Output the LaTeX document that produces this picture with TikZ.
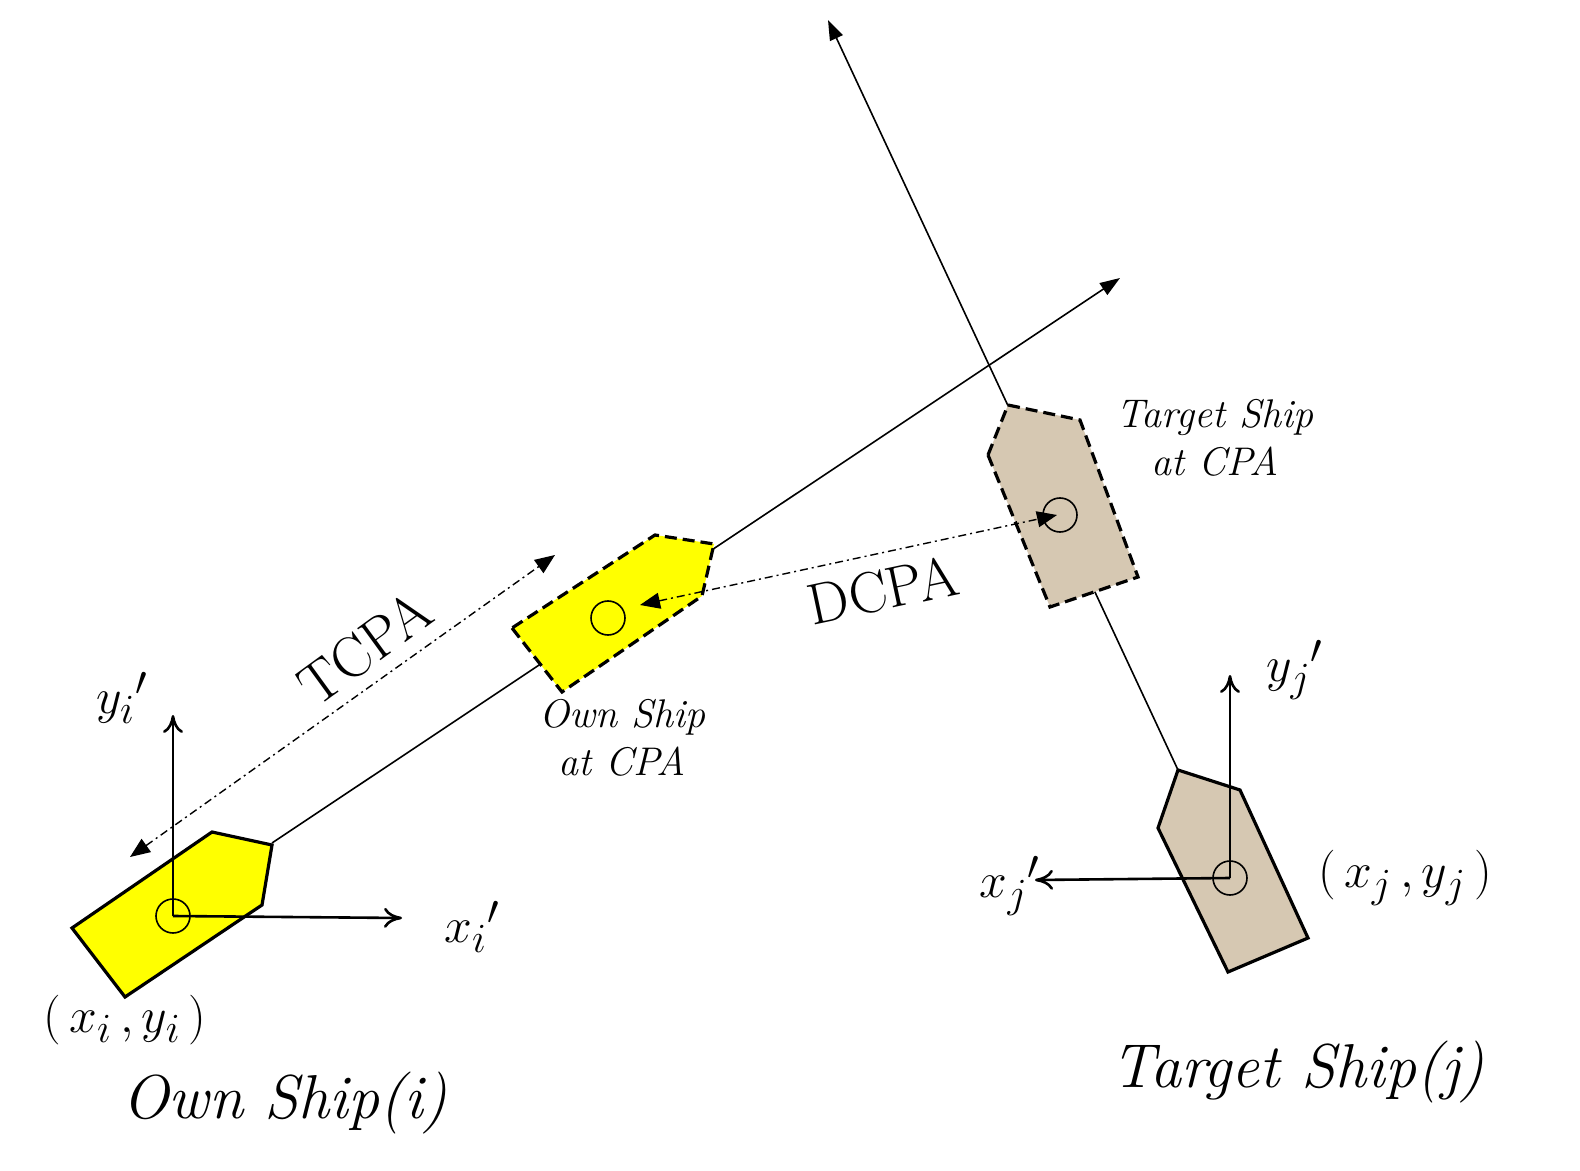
\documentclass[tikz,border=0pt]{standalone}
\usepackage{fontspec}
\usetikzlibrary{arrows.meta}
\begin{document}
\begin{tikzpicture}[x=0.5pt,y=-0.5pt,
  lab/.style={font=\fontsize{20}{24}\selectfont\itshape},
  big/.style={font=\fontsize{31}{34}\selectfont\itshape},
  ax/.style={font=\fontsize{28}{30}\selectfont},
  axis/.style={line width=1.3pt,-{To[length=9pt,width=10pt]}},
  trk/.style={line width=0.8pt,-{Triangle[length=10pt,width=7pt]}},
  dd/.style={line width=0.7pt,dash pattern=on 4pt off 2pt on 1pt off 2pt,{Triangle[length=10pt,width=8pt]}-{Triangle[length=10pt,width=8pt]}},
  ship/.style={line width=1.6pt,line join=miter},
  dship/.style={line width=1.6pt,dash pattern=on 6pt off 3pt},
  ctr/.style={circle,draw,line width=0.8pt,minimum size=17pt,inner sep=0pt}]
\definecolor{shipy}{RGB}{255,255,0}
\definecolor{tan}{RGB}{214,200,178}
\useasboundingbox (0,0) rectangle (1580,1171);
% tracks
\coordinate (obow) at (272,843);
\coordinate (oend) at (1120,278);
\coordinate (tbow) at (1178,770);
\coordinate (tend) at (828,20);
\draw[trk] (obow) -- (oend);
\draw[trk] (tbow) -- (tend);
% own ship
\filldraw[ship,fill=shipy] (72,928) -- (125,997) -- (262,905) -- (272,845) -- (212,832) -- cycle;
\node[ctr] (oc) at (173,916) {};
% own ship at CPA
\filldraw[dship,fill=shipy] (512,628) -- (562,692) -- (702,596) -- (714,544) -- (655,535) -- cycle;
\node[ctr] (occ) at (608,618) {};
% target ship
\filldraw[ship,fill=tan] (1158,828) -- (1228,972) -- (1308,938) -- (1240,790) -- (1178,770) -- cycle;
\node[ctr] (tc) at (1230,878) {};
% target at CPA
\filldraw[dship,fill=tan] (988,455) -- (1050,607) -- (1138,577) -- (1080,420) -- (1008,405) -- cycle;
\node[ctr] (tcc) at (1060,515) {};
% axes
\coordinate (oyi) at (173,715);
\coordinate (oxi) at (402,918);
\coordinate (tyj) at (1230,675);
\coordinate (txj) at (1035,880);
\draw[axis] (oc.center) -- (oyi);
\draw[axis] (oc.center) -- (oxi);
\draw[axis] (tc.center) -- (tyj);
\draw[axis] (tc.center) -- (txj);
% TCPA / DCPA
\coordinate (t1) at (130,857);
\coordinate (t2) at (555,555);
\draw[dd] (t1) -- (t2);
\coordinate (d1) at (640,605);
\coordinate (d2) at (1057,515);
\draw[dd] (d1) -- (d2);
\node[font=\fontsize{29}{31}\selectfont,rotate=36] (tl) at (365,648) {TCPA};
\node[font=\fontsize{29}{31}\selectfont,rotate=12] (dl) at (883,590) {DCPA};
% labels
\node[ax] (yil) at (122,698) {$y_i{}'$};
\node[ax] (xil) at (472,927) {$x_i{}'$};
\node[ax] (yjl) at (1295,670) {$y_j{}'$};
\node[ax] (xjl) at (1010,886) {$x_j{}'$};
\node[ax] (xyi) at (125,1020) {$(\,x_i\,,y_i\,)$};
\node[ax] (xyj) at (1405,878) {$(\,x_j\,,y_j\,)$};
\node[lab,align=center] (ocl) at (622,738) {Own Ship\\at CPA};
\node[lab,align=center] (tcl) at (1215,438) {Target Ship\\at CPA};
\node[big] (osl) at (285,1103) {Own Ship(i)};
\node[big] (tsl) at (1298,1072) {Target Ship(j)};
\end{tikzpicture}
\end{document}
